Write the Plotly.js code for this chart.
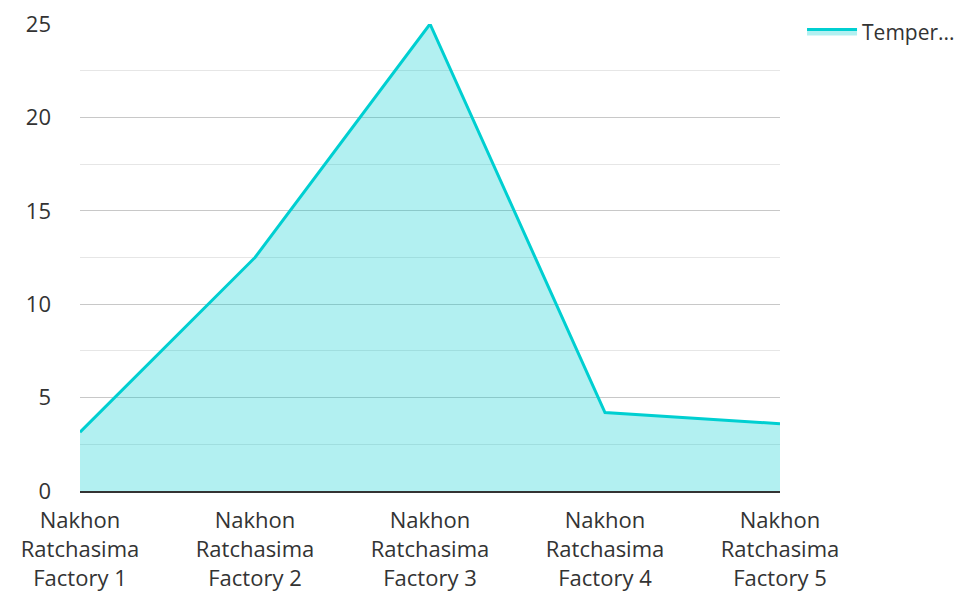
<!DOCTYPE html>
<html>
<head>
<meta charset="utf-8">
<script src="https://cdn.plot.ly/plotly-3.0.1.min.js"></script>
<style>html,body{margin:0;padding:0;background:#fff;}#chart{width:971px;height:597px;}</style>
</head>
<body>
<div id="chart"></div>
<script>
const categories = ["Nakhon<br>Ratchasima<br>Factory 1", "Nakhon<br>Ratchasima<br>Factory 2", "Nakhon<br>Ratchasima<br>Factory 3", "Nakhon<br>Ratchasima<br>Factory 4", "Nakhon<br>Ratchasima<br>Factory 5"];
const temperature = [3.15, 12.5, 25, 4.2, 3.6];
const seriesName = "Temper...";
const yTicks = [0, 5, 10, 15, 20, 25];

const trace = {
  x: categories,
  y: temperature,
  type: 'scatter',
  mode: 'lines',
  name: seriesName,
  fill: 'tozeroy',
  fillcolor: 'rgba(0,206,209,0.3)',
  line: {color: '#00cfd1', width: 3},
  hoverinfo: 'x+y'
};

const layout = {
  width: 971, height: 597,
  margin: {l: 80, r: 190, t: 23, b: 106},
  paper_bgcolor: '#fff', plot_bgcolor: '#fff',
  font: {family: 'Open Sans, Noto Sans, sans-serif', size: 22, color: '#333'},
  showlegend: true,
  legend: {x: 1.03, xref: 'paper', y: 1.025, yanchor: 'top', xanchor: 'left', itemwidth: 50, font: {size: 21, color: '#333'}},
  xaxis: {
    type: 'category', range: [0, 4], showgrid: false, zeroline: false,
    showline: true, linecolor: '#333', linewidth: 2,
    ticks: '', tickfont: {size: 22, color: '#333'}, ticklabelstandoff: 9
  },
  yaxis: {
    range: [0, 25], tickvals: yTicks, ticktext: yTicks.map(String),
    showgrid: true, gridcolor: '#c8c8c8', gridwidth: 1,
    minor: {dtick: 2.5, showgrid: true, gridcolor: '#e6e6e6', gridwidth: 1},
    zeroline: false, showline: false, ticks: '',
    tickfont: {size: 22, color: '#333'}, ticklabelstandoff: 28
  }
};

Plotly.newPlot('chart', [trace], layout, {displayModeBar: false, responsive: false});
</script>
</body>
</html>
